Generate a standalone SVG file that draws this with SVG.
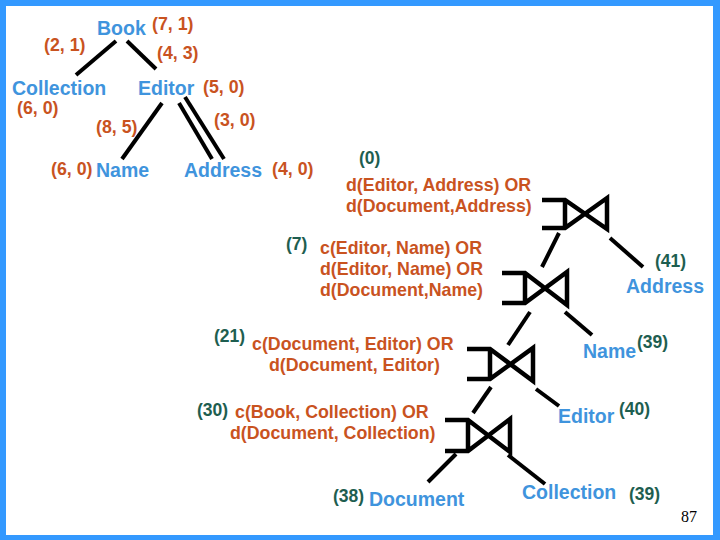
<svg xmlns="http://www.w3.org/2000/svg" width="720" height="540" viewBox="0 0 720 540">
<style>
text{font-family:"Liberation Sans",Arial,sans-serif;font-weight:bold}
.b{fill:#3F94DD;font-size:19.5px}
.o{fill:#C9531F;font-size:17.8px}
.g{fill:#1E5E50;font-size:17.5px}
.e{stroke:#000;stroke-width:4;fill:none;stroke-linecap:butt}
.j{stroke:#000;stroke-width:4.5;fill:none;stroke-linejoin:miter}
.pg{font-family:"Liberation Serif","Times New Roman",serif;font-weight:normal;font-size:16px;fill:#000}
</style>
<rect x="0" y="0" width="720" height="540" fill="#fff"/>
<g id="frame" fill="#3399FF">
<rect x="0" y="0" width="720" height="6"/>
<rect x="0" y="0" width="6" height="540"/>
<rect x="713" y="0" width="7" height="540"/>
<rect x="0" y="535" width="720" height="5"/>
</g>
<g id="connectors" class="e">
<line x1="116" y1="41" x2="76" y2="75"/>
<line x1="127" y1="41" x2="156" y2="69"/>
<line x1="162" y1="103" x2="122" y2="159"/>
<line x1="179" y1="103" x2="212" y2="159"/>
<line x1="185" y1="97" x2="224" y2="159"/>
<line x1="559" y1="233" x2="542" y2="267"/>
<line x1="610" y1="238" x2="643" y2="267"/>
<line x1="530" y1="312" x2="508" y2="345"/>
<line x1="565" y1="312" x2="592" y2="335"/>
<line x1="491" y1="387" x2="473" y2="413"/>
<line x1="536" y1="389" x2="559" y2="406"/>
<line x1="456" y1="454" x2="428" y2="482"/>
<line x1="508" y1="455" x2="545" y2="484"/>
</g>
<g id="tree-labels">
<text class="o" x="44" y="51">(2, 1)</text>
<text class="o" x="157" y="59">(4, 3)</text>
<text class="o" x="96" y="133">(8, 5)</text>
<text class="o" x="214" y="126">(3, 0)</text>
</g>
<g id="t-book"><text class="b" x="97" y="35">Book</text><text class="o" x="152" y="30">(7, 1)</text></g>
<g id="t-collection"><text class="b" x="12" y="95">Collection</text><text class="o" x="17" y="114">(6, 0)</text></g>
<g id="t-editor"><text class="b" x="138" y="95">Editor</text><text class="o" x="203" y="93">(5, 0)</text></g>
<g id="t-name"><text class="o" x="51" y="175">(6, 0)</text><text class="b" x="96" y="177">Name</text></g>
<g id="t-address"><text class="b" x="184" y="177">Address</text><text class="o" x="272" y="175">(4, 0)</text></g>
<g id="join1">
<path class="j" d="M542,200 H565 L607,229 V198 L565,228 H542 M565,200 V228"/>
<text class="g" x="359" y="164">(0)</text>
<text class="o" x="346" y="191">d(Editor, Address) OR</text>
<text class="o" x="346" y="212">d(Document,Address)</text>
</g>
<g id="join2">
<path class="j" d="M502,273 H525 L567,305 V272 L525,303 H502 M525,273 V303"/>
<text class="g" x="286" y="250">(7)</text>
<text class="o" x="320" y="254">c(Editor, Name) OR</text>
<text class="o" x="320" y="275">d(Editor, Name) OR</text>
<text class="o" x="320" y="296">d(Document,Name)</text>
</g>
<g id="join3">
<path class="j" d="M467,349 H490 L533,381 V348 L490,379 H467 M490,349 V379"/>
<text class="g" x="214" y="342">(21)</text>
<text class="o" x="252" y="350">c(Document, Editor) OR</text>
<text class="o" x="269" y="371">d(Document, Editor)</text>
</g>
<g id="join4">
<path class="j" d="M445,420 H468 L510,452 V419 L468,451 H445 M468,420 V451"/>
<text class="g" x="197" y="416">(30)</text>
<text class="o" x="235" y="418">c(Book, Collection) OR</text>
<text class="o" x="230" y="439">d(Document, Collection)</text>
</g>
<g id="leaf-address"><text class="g" x="655" y="267">(41)</text><text class="b" x="626" y="293">Address</text></g>
<g id="leaf-name"><text class="b" x="583" y="358">Name</text><text class="g" x="637" y="348">(39)</text></g>
<g id="leaf-editor"><text class="b" x="558" y="423">Editor</text><text class="g" x="619" y="415">(40)</text></g>
<g id="leaf-document"><text class="g" x="333" y="502">(38)</text><text class="b" x="369" y="506">Document</text></g>
<g id="leaf-collection"><text class="b" x="522" y="499">Collection</text><text class="g" x="629" y="500">(39)</text></g>
<text class="pg" x="681" y="522">87</text>
</svg>
